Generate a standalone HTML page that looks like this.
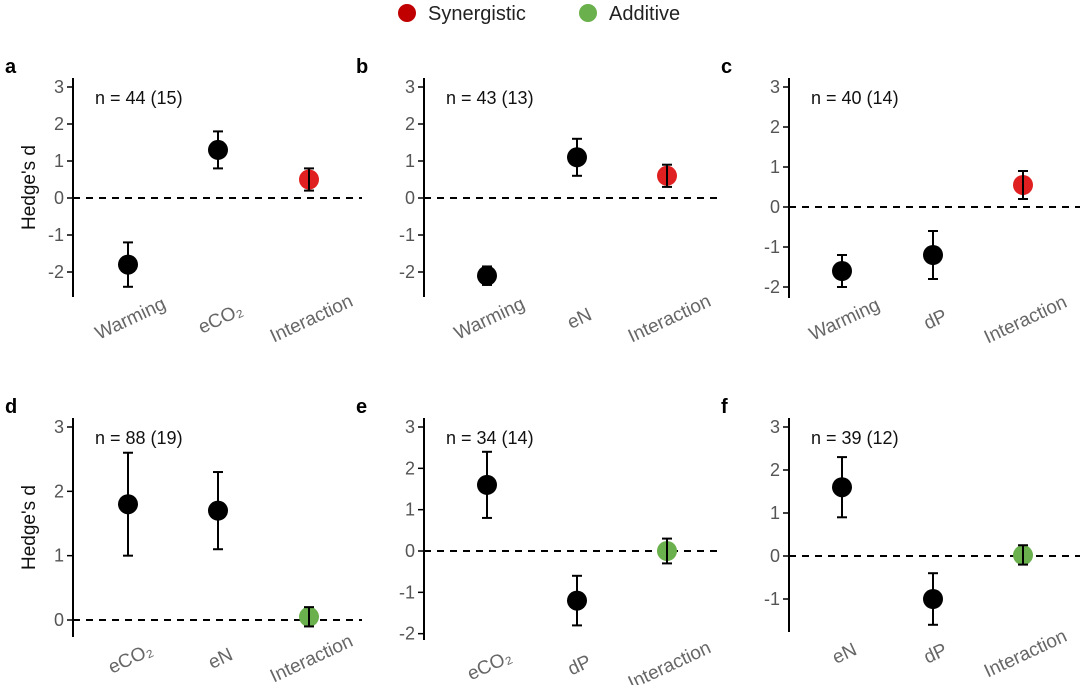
<!DOCTYPE html>
<html><head><meta charset="utf-8"><style>
body{margin:0;background:#fff;width:1080px;height:685px;overflow:hidden;font-family:"Liberation Sans",Arial,sans-serif}
svg text{font-family:"Liberation Sans",Arial,sans-serif}
</style></head><body>
<svg id="chart" width="1080" height="685" xmlns="http://www.w3.org/2000/svg">
<g>
<circle cx="407" cy="13" r="9" fill="#c00000"/>
<text x="428" y="20" font-size="20" fill="#222">Synergistic</text>
<circle cx="588" cy="13" r="9" fill="#6ab04c"/>
<text x="609" y="20" font-size="20" fill="#222">Additive</text>
</g>
</svg>
<script>
const panelLetters=["a","b","c","d","e","f"];
const nLabels=["n = 44 (15)","n = 43 (13)","n = 40 (14)","n = 88 (19)","n = 34 (14)","n = 39 (12)"];
const categoriesA=["Warming","eCO₂","Interaction"];
const categoriesB=["Warming","eN","Interaction"];
const categoriesC=["Warming","dP","Interaction"];
const categoriesD=["eCO₂","eN","Interaction"];
const categoriesE=["eCO₂","dP","Interaction"];
const categoriesF=["eN","dP","Interaction"];
const meanA=[-1.8,1.3,0.5], lowA=[-2.4,0.8,0.2], highA=[-1.2,1.8,0.8];
const meanB=[-2.1,1.1,0.6], lowB=[-2.35,0.6,0.3], highB=[-1.85,1.6,0.9];
const meanC=[-1.6,-1.2,0.55], lowC=[-2.0,-1.8,0.2], highC=[-1.2,-0.6,0.9];
const meanD=[1.8,1.7,0.05], lowD=[1.0,1.1,-0.1], highD=[2.6,2.3,0.2];
const meanE=[1.6,-1.2,0.0], lowE=[0.8,-1.8,-0.3], highE=[2.4,-0.6,0.3];
const meanF=[1.6,-1.0,0.02], lowF=[0.9,-1.6,-0.2], highF=[2.3,-0.4,0.25];
const effectType=["none","none","synergistic"];
const effectType2=["none","none","additive"];
const ticksTop=[-2,-1,0,1,2,3];
const ticksD=[0,1,2,3];
const ticksF=[-1,0,1,2,3];

const panels=[
 {cats:categoriesA,m:meanA,lo:lowA,hi:highA,types:effectType,ticks:ticksTop,ax:73,y3:87,y0:198,top:78,bot:297,right:362,xs:[128,218,309],ylab:true},
 {cats:categoriesB,m:meanB,lo:lowB,hi:highB,types:effectType,ticks:ticksTop,ax:424,y3:87,y0:198,top:78,bot:297,right:722,xs:[487,577,667]},
 {cats:categoriesC,m:meanC,lo:lowC,hi:highC,types:effectType,ticks:ticksTop,ax:789,y3:87,y0:207,top:78,bot:298,right:1080,xs:[842,933,1023]},
 {cats:categoriesD,m:meanD,lo:lowD,hi:highD,types:effectType2,ticks:ticksD,ax:73,y3:427,y0:620,top:418,bot:637,right:362,xs:[128,218,309],ylab:true},
 {cats:categoriesE,m:meanE,lo:lowE,hi:highE,types:effectType2,ticks:ticksTop,ax:424,y3:427,y0:551,top:418,bot:640,right:722,xs:[487,577,667]},
 {cats:categoriesF,m:meanF,lo:lowF,hi:highF,types:effectType2,ticks:ticksF,ax:789,y3:427,y0:556,top:418,bot:632,right:1080,xs:[842,933,1023]}
];
const NS="http://www.w3.org/2000/svg";
const svg=document.getElementById("chart");
function mk(tag,attrs,parent){const e=document.createElementNS(NS,tag);for(const k in attrs)e.setAttribute(k,attrs[k]);(parent||svg).appendChild(e);return e;}
const colors={none:"#000",synergistic:"#e02020",additive:"#6ab04c"};
panels.forEach((p,i)=>{
 const g=mk("g",{});
 
 
 const unit=(p.y0-p.y3)/3;
 const y=v=>p.y0-v*unit;
 const L=mk("text",{x:p.ax-68,y:p.top-5,"font-size":20,"font-weight":"bold",fill:"#000"},g);L.textContent=panelLetters[i];
 
 
 const ax=mk("line",{x1:p.ax,x2:p.ax,y1:p.top,y2:p.bot,stroke:"#000","stroke-width":2},g);
 
 
 p.ticks.forEach(t=>{
  mk("line",{x1:p.ax-6,x2:p.ax,y1:y(t),y2:y(t),stroke:"#000","stroke-width":1.5},g);
  const tl=mk("text",{x:p.ax-9,y:y(t)+6,"font-size":18,fill:"#555","text-anchor":"end"},g);tl.textContent=t;
  
  
 });
 const z=mk("line",{x1:p.ax,x2:p.right,y1:y(0),y2:y(0),stroke:"#000","stroke-width":2,"stroke-dasharray":"7,6"},g);
 
 
 const n=mk("text",{x:p.ax+22,y:p.y3+17,"font-size":18,fill:"#111"},g);n.textContent=nLabels[i];
 
 
 if(p.ylab){const yl=mk("text",{transform:`translate(35,${(p.top+p.bot)/2}) rotate(-90)`,"font-size":19,fill:"#111","text-anchor":"middle"},g);yl.textContent="Hedge's d";
  
  }
 p.cats.forEach((c,j)=>{
  const x=p.xs[j];
  const pt=mk("g",{},g);
  
  
  mk("circle",{cx:x,cy:y(p.m[j]),r:10,fill:colors[p.types[j]]},pt);
  mk("line",{x1:x,x2:x,y1:y(p.lo[j]),y2:y(p.hi[j]),stroke:"#000","stroke-width":2},pt);
  mk("line",{x1:x-5,x2:x+5,y1:y(p.lo[j]),y2:y(p.lo[j]),stroke:"#000","stroke-width":2},pt);
  mk("line",{x1:x-5,x2:x+5,y1:y(p.hi[j]),y2:y(p.hi[j]),stroke:"#000","stroke-width":2},pt);
  const bb=Math.max(p.bot,y(p.ticks[0])+10);
  const cl=mk("text",{transform:`translate(${x+5},${bb+27}) rotate(-25)`,"font-size":19,fill:"#666","text-anchor":"middle"},g);cl.textContent=c;
  
  
 });
});
</script>
</body></html>
